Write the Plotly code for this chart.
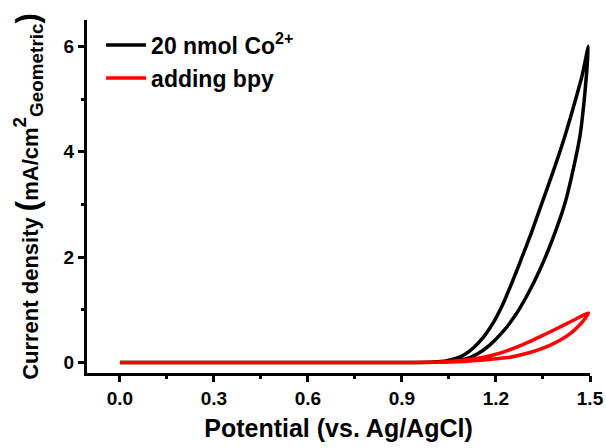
import plotly.graph_objects as go

# Black: 20 nmol Co2+ (forward scan then reverse scan)
co_E_fwd = [0.0, 0.3, 0.6, 0.9, 1.0, 1.05, 1.10, 1.14, 1.18, 1.22, 1.26, 1.30, 1.34, 1.38, 1.42, 1.447, 1.468, 1.481, 1.495]
co_I_fwd = [0, 0, 0, 0, 0.004, 0.018, 0.06, 0.16, 0.33, 0.57, 0.88, 1.28, 1.76, 2.33, 3.02, 3.68, 4.3, 4.95, 6.0]
co_E_rev = [1.495, 1.475, 1.452, 1.42, 1.388, 1.35, 1.314, 1.28, 1.25, 1.22, 1.19, 1.16, 1.13, 1.10, 1.07, 1.04, 1.0, 0.9, 0.6, 0.3, 0.0]
co_I_rev = [6.0, 5.45, 4.95, 4.30, 3.72, 3.08, 2.48, 1.95, 1.50, 1.08, 0.74, 0.48, 0.29, 0.15, 0.07, 0.03, 0.01, 0, 0, 0, 0]

# Red: adding bpy
bpy_E_fwd = [0.0, 0.3, 0.6, 0.9, 1.0, 1.05, 1.1, 1.15, 1.2, 1.245, 1.29, 1.33, 1.37, 1.404, 1.44, 1.468, 1.485, 1.495]
bpy_I_fwd = [0, 0, 0, 0, 0.003, 0.008, 0.02, 0.04, 0.07, 0.10, 0.16, 0.23, 0.32, 0.42, 0.56, 0.72, 0.84, 0.94]
bpy_E_rev = [1.495, 1.45, 1.41, 1.36, 1.309, 1.27, 1.234, 1.2, 1.16, 1.12, 1.08, 1.04, 1.0, 0.9, 0.6, 0.3, 0.0]
bpy_I_rev = [0.94, 0.81, 0.69, 0.545, 0.40, 0.30, 0.22, 0.155, 0.10, 0.06, 0.033, 0.014, 0.005, 0, 0, 0, 0]

series_names = ["20 nmol Co<sup>2+</sup>", "adding bpy"]
series_colors = ["#000000", "#ff0000"]

x_ticks = [0.0, 0.3, 0.6, 0.9, 1.2, 1.5]
y_ticks = [0, 2, 4, 6]

FONT = "Liberation Sans, Arial, sans-serif"

fig = go.Figure()
fig.add_trace(go.Scatter(
    x=co_E_fwd + co_E_rev[1:], y=co_I_fwd + co_I_rev[1:],
    mode="lines", name=series_names[0],
    line=dict(color=series_colors[0], width=3.5, shape="spline", smoothing=0.6),
))
fig.add_trace(go.Scatter(
    x=bpy_E_fwd + bpy_E_rev[1:], y=bpy_I_fwd + bpy_I_rev[1:],
    mode="lines", name=series_names[1],
    line=dict(color=series_colors[1], width=3.5, shape="spline", smoothing=0.6),
))

axis_common = dict(
    showgrid=False, zeroline=False, showline=True, linecolor="black", linewidth=3,
    ticks="outside", ticklen=6, tickwidth=2.5, tickcolor="black",
    tickfont=dict(family=FONT, size=19, color="black", weight="bold"),
    mirror=False, automargin=False,
)

ytitle = ("<span style='font-size:22px'>Current density </span>"
          "<span style='font-size:31px'>(</span>"
          "<span style='font-size:22px'>mA/cm</span><sup>2</sup><sub>Geometric</sub>"
          "<span style='font-size:31px'>)</span>")

fig.update_layout(
    width=606, height=448,
    margin=dict(l=87, r=16, t=20, b=75),
    plot_bgcolor="white", paper_bgcolor="white",
    font=dict(family=FONT, color="black"),
    showlegend=True,
    legend=dict(
        x=0.028, y=0.99, xanchor="left", yanchor="top",
        font=dict(family=FONT, size=23, color="black", weight="bold"),
        bgcolor="rgba(0,0,0,0)", itemwidth=40, tracegroupgap=0,
    ),
    xaxis=dict(
        axis_common,
        range=[-0.105, 1.5], tickvals=x_ticks, ticktext=[f"{v:.1f}" for v in x_ticks],
        minor=dict(dtick=0.15, tick0=0, ticks="outside", ticklen=3, tickwidth=2.5, tickcolor="black"),
        title=dict(text="Potential (vs. Ag/AgCl)", standoff=12,
                   font=dict(family=FONT, size=25, color="black", weight="bold")),
    ),
    yaxis=dict(
        axis_common,
        range=[-0.2, 6.5], tickvals=y_ticks, ticktext=[str(v) for v in y_ticks],
        minor=dict(dtick=1, tick0=0, ticks="outside", ticklen=3, tickwidth=2.5, tickcolor="black"),
        title=dict(text=ytitle, standoff=18,
                   font=dict(family=FONT, size=27, color="black", weight="bold")),
    ),
)

fig.write_html("out.html")
